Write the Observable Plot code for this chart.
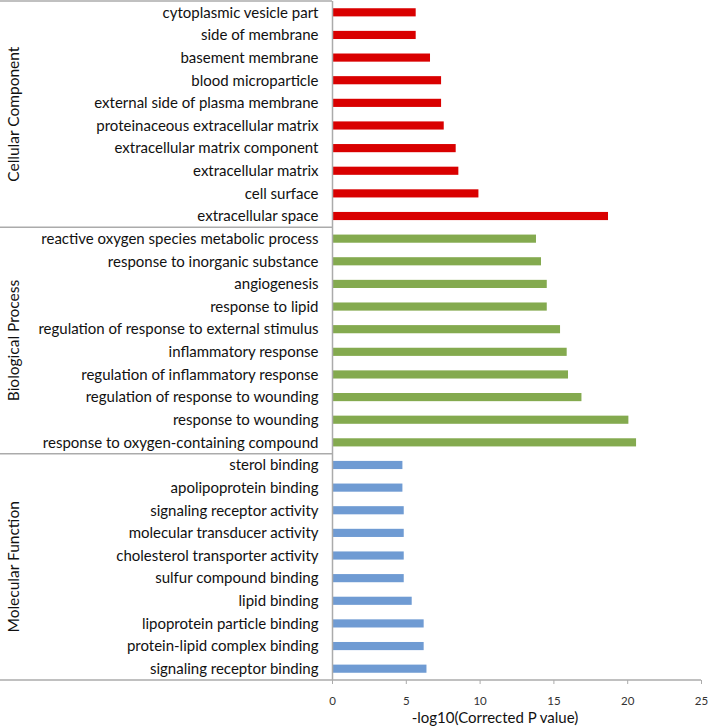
<!DOCTYPE html>
<html><head><meta charset="utf-8">
<script src="https://cdn.jsdelivr.net/npm/d3@7"></script>
<script src="https://cdn.jsdelivr.net/npm/@observablehq/plot@0.6"></script>
<style>body{margin:0;background:#fff} svg{display:block}</style>
</head><body><div id="chart"></div>
<script>
const groups = ["Cellular Component", "Biological Process", "Molecular Function"];
const groupColors = ["#d90000", "#84aa4f", "#6f9bd3"];

const ccTerms = ["cytoplasmic vesicle part","side of membrane","basement membrane","blood microparticle","external side of plasma membrane","proteinaceous extracellular matrix","extracellular matrix component","extracellular matrix","cell surface","extracellular space"];
const ccValues = [5.67, 5.67, 6.64, 7.39, 7.39, 7.57, 8.38, 8.56, 9.92, 18.70];

const bpTerms = ["reactive oxygen species metabolic process","response to inorganic substance","angiogenesis","response to lipid","regulation of response to external stimulus","inflammatory response","regulation of inflammatory response","regulation of response to wounding","response to wounding","response to oxygen-containing compound"];
const bpValues = [13.82, 14.16, 14.55, 14.55, 15.45, 15.90, 15.99, 16.90, 20.08, 20.60];

const mfTerms = ["sterol binding","apolipoprotein binding","signaling receptor activity","molecular transducer activity","cholesterol transporter activity","sulfur compound binding","lipid binding","lipoprotein particle binding","protein-lipid complex binding","signaling receptor binding"];
const mfValues = [4.77, 4.77, 4.86, 4.86, 4.86, 4.86, 5.40, 6.21, 6.21, 6.40];

const xTicks = [0, 5, 10, 15, 20, 25];
const xLabel = "-log10(Corrected P value)";

const groupTerms = [ccTerms, bpTerms, mfTerms];
const groupValues = [ccValues, bpValues, mfValues];
const rows = [];
groupTerms.forEach((terms, gi) => terms.forEach((term, i) => rows.push({group: groups[gi], term, value: groupValues[gi][i]})));

const lineColor = "#ababab";
const chart = Plot.plot({
  width: 708, height: 727,
  marginLeft: 332, marginRight: 7, marginTop: 1, marginBottom: 47,
  style: {fontFamily: "Lato, sans-serif", background: "#fff", color: "#111"},
  x: {domain: [0, 25], ticks: xTicks},
  y: {domain: rows.map(d => d.term), paddingInner: 0.64, paddingOuter: 0.32, round: false},
  color: {domain: groups, range: groupColors},
  marks: [
    Plot.barX(rows, {x: "value", y: "term", fill: "group"}),
    Plot.ruleX([0], {stroke: lineColor, strokeWidth: 1.5}),
    Plot.axisY({tickSize: 0, tickPadding: 14, fontSize: 15, label: null, fill: "#111"}),
    Plot.axisX({ticks: xTicks, tickSize: 4, tickPadding: 12, fontSize: 11.5, label: null, stroke: lineColor, fill: "#333"})
  ]
});
document.getElementById("chart").appendChild(chart);

const svg = d3.select(chart);
const ys = chart.scale("y"), xs = chart.scale("x");
const gap = (ys.step - ys.bandwidth) / 2;
const x0 = xs.apply(0);
const g = svg.append("g");
const bounds = groupTerms.map(t => ys.apply(t[0]) - gap);
const bottom = ys.apply(mfTerms[mfTerms.length - 1]) + ys.bandwidth + gap;
bounds.forEach(y => g.append("line").attr("x1", 0).attr("x2", x0).attr("y1", y).attr("y2", y).attr("stroke", lineColor).attr("stroke-width", 1.5));
g.append("line").attr("x1", 0).attr("x2", xs.apply(25)).attr("y1", bottom).attr("y2", bottom).attr("stroke", lineColor).attr("stroke-width", 1.5);
groups.forEach((name, gi) => {
  const yTop = bounds[gi];
  const yBot = gi < 2 ? bounds[gi + 1] : bottom;
  const cy = (yTop + yBot) / 2;
  g.append("text").attr("transform", `translate(13,${cy}) rotate(-90)`)
    .attr("text-anchor", "middle").attr("dominant-baseline", "central")
    .attr("font-family", "Lato, sans-serif").attr("font-size", 15.5).attr("fill", "#111").text(name);
});
g.append("text").attr("x", 495).attr("y", 723).attr("text-anchor", "middle")
  .attr("font-family", "Lato, sans-serif").attr("font-size", 15).attr("fill", "#111").text(xLabel);
</script>
</body></html>
